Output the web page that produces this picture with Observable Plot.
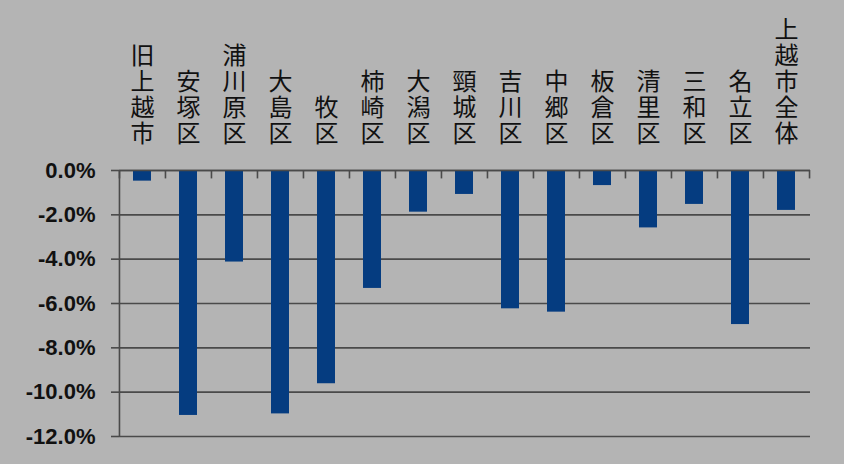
<!DOCTYPE html>
<html><head><meta charset="utf-8">
<script src="https://cdn.jsdelivr.net/npm/d3@7"></script>
<script src="https://cdn.jsdelivr.net/npm/@observablehq/plot@0.6"></script>
<style>
html,body{margin:0;padding:0;background:#b4b4b4;}
#chart{width:844px;height:464px;overflow:hidden;}
</style></head>
<body><div id="chart"></div>
<script>
const categories = ["旧上越市","安塚区","浦川原区","大島区","牧区","柿崎区","大潟区","頸城区","吉川区","中郷区","板倉区","清里区","三和区","名立区","上越市全体"];
const values = [-0.48,-11.05,-4.13,-10.98,-9.62,-5.32,-1.88,-1.08,-6.24,-6.39,-0.68,-2.59,-1.53,-6.95,-1.80];
const yTicks = [0,-2,-4,-6,-8,-10,-12];

const data = categories.map((c,i)=>({name:c, value:values[i]}));
const W = 844, H = 464, ML = 119, MR = 34, MT = 170, MB = 28;
const step = (W - ML - MR) / categories.length;
const lineColor = "#4a4a4a";

const chart = Plot.plot({
  width: W, height: H,
  marginLeft: ML, marginRight: MR, marginTop: MT, marginBottom: MB,
  style: {background: "#b4b4b4", overflow: "visible"},
  x: {domain: categories, paddingInner: 0.6, paddingOuter: 0.3, axis: null},
  y: {domain: [-12, 0], axis: null},
  marks: [
    Plot.gridY(yTicks, {stroke: lineColor, strokeOpacity: 1, strokeWidth: 1.6}),
    Plot.barY(data, {x: "name", y: "value", fill: "#053c80"}),
    Plot.ruleX([categories[0]], {y1: 0, y2: -12, dx: -step/2, stroke: lineColor, strokeWidth: 1.6}),
    Plot.ruleY([0], {stroke: lineColor, strokeWidth: 1.6}),
    Plot.ruleX(categories, {x: d=>d, y1: 0, y2: -0.38, dx: -step/2, stroke: lineColor, strokeWidth: 1.6}),
    Plot.ruleX([categories[categories.length-1]], {y1: 0, y2: -0.38, dx: step/2, stroke: lineColor, strokeWidth: 1.6}),
    Plot.axisY({ticks: yTicks, label: null, tickSize: 8, tickPadding: 16, stroke: lineColor, strokeWidth: 1.6,
      tickFormat: d => d.toFixed(1) + "%", fontSize: 22, fontWeight: "bold", fill: "#111",
      fontFamily: "Liberation Sans, Arial, sans-serif"}),
    Plot.text(data, {x: "name", text: d => [...d.name].join("\n"), frameAnchor: "top", lineAnchor: "bottom",
      dy: -29, fontSize: 24, lineHeight: 1.08, fill: "#111", fontFamily: "Noto Sans CJK JP"})
  ]
});
document.getElementById("chart").appendChild(chart);
</script></body></html>
